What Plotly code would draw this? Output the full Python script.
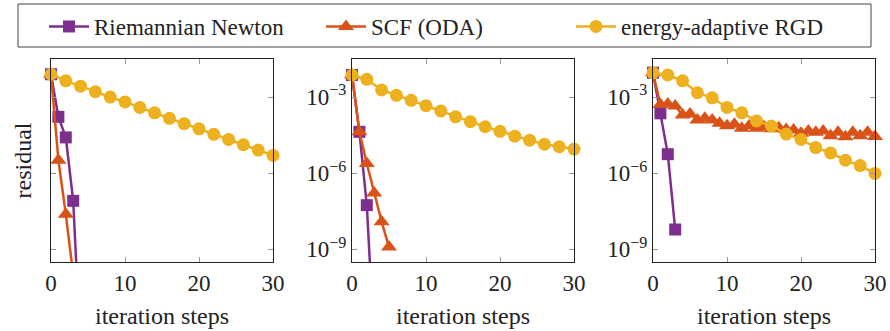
import numpy as np
import plotly.graph_objects as go

# ---------------- data (residual vs iteration step) ----------------
steps_even = list(range(0, 31, 2))
steps_all = list(range(0, 31))

# panel 1
rn1_x = [0, 1, 2, 3, 4]
rn1_y = [7.94e-3, 1.66e-4, 2.57e-5, 8.13e-8, 7.9e-14]
scf1_x = [0, 1, 2, 3]
scf1_y = [7.94e-3, 3.24e-6, 2.40e-8, 1.0e-10]
rgd1_x = steps_even
rgd1_y = [7.94e-3, 4.37e-3, 2.69e-3, 1.62e-3, 1.00e-3, 6.46e-4, 3.89e-4, 2.40e-4,
          1.45e-4, 8.91e-5, 5.62e-5, 3.39e-5, 2.14e-5, 1.32e-5, 8.13e-6, 5.01e-6]

# panel 2
rn2_x = [0, 1, 2, 3]
rn2_y = [7.41e-3, 4.27e-5, 5.50e-8, 2.0e-13]
scf2_x = [0, 1, 2, 3, 4, 5]
scf2_y = [7.41e-3, 4.27e-5, 2.40e-6, 1.66e-7, 1.23e-8, 1.23e-9]
rgd2_x = steps_even
rgd2_y = [7.41e-3, 5.01e-3, 1.91e-3, 1.17e-3, 7.41e-4, 4.57e-4, 2.82e-4, 1.66e-4,
          1.07e-4, 6.76e-5, 4.47e-5, 2.88e-5, 2.00e-5, 1.38e-5, 1.10e-5, 8.91e-6]

# panel 3
rn3_x = [0, 1, 2, 3]
rn3_y = [9.12e-3, 2.29e-4, 5.62e-6, 6.03e-9]
scf3_x = steps_all
scf3_y = [9.12e-3, 5.13e-4, 5.37e-4, 4.47e-4, 1.95e-4, 2.14e-4, 1.26e-4, 1.45e-4,
          1.26e-4, 9.33e-5, 7.41e-5, 8.51e-5, 5.89e-5, 7.41e-5, 5.89e-5, 6.76e-5,
          5.62e-5, 6.17e-5, 5.25e-5, 5.01e-5, 3.72e-5, 4.57e-5, 4.07e-5, 4.57e-5,
          3.02e-5, 4.07e-5, 2.75e-5, 4.07e-5, 3.02e-5, 4.07e-5, 2.82e-5]
rgd3_x = steps_even
rgd3_y = [9.12e-3, 7.41e-3, 4.37e-3, 1.48e-3, 9.33e-4, 3.89e-4, 2.40e-4, 1.15e-4,
          7.24e-5, 3.47e-5, 2.14e-5, 1.02e-5, 6.31e-6, 3.24e-6, 2.00e-6, 9.77e-7]

series_names = ["Riemannian Newton", "SCF (ODA)", "energy-adaptive RGD"]
x_ticks = [0, 10, 20, 30]
y_ticks = [1e-9, 1e-6, 1e-3]
y_ticktext = ["10<sup>−9</sup>", "10<sup>−6</sup>", "10<sup>−3</sup>"]
x_title = "iteration steps"
y_title = "residual"

# ---------------- style ----------------
colors = ["#7E2F8E", "#D95319", "#EDB120"]
symbols = ["square", "triangle-up", "circle"]
msizes = [12, 14, 13]
FONT = "Liberation Serif"
Y_RANGE = [-9.5, -1.5]

panels = [
    [(rn1_x, rn1_y), (scf1_x, scf1_y), (rgd1_x, rgd1_y)],
    [(rn2_x, rn2_y), (scf2_x, scf2_y), (rgd2_x, rgd2_y)],
    [(rn3_x, rn3_y), (scf3_x, scf3_y), (rgd3_x, rgd3_y)],
]

W, H = 890, 331
x_doms = [(51, 273), (352, 574), (653, 875)]
y_dom = [1 - 262 / H, 1 - 59 / H]
legend_left_px = [44, 321, 571]

fig = go.Figure()

for p, series in enumerate(panels):
    xa = "x" if p == 0 else f"x{p+1}"
    ya = "y" if p == 0 else f"y{p+1}"
    for s, (xs, ys) in enumerate(series):
        xs = np.array(xs, dtype=float)
        ys = np.array(ys, dtype=float)
        fig.add_trace(go.Scatter(
            x=xs, y=ys, mode="lines", xaxis=xa, yaxis=ya,
            line=dict(color=colors[s], width=2.5), showlegend=False,
            hoverinfo="skip"))
        lg = np.log10(ys)
        keep = (lg >= Y_RANGE[0] - 0.05) & (lg <= Y_RANGE[1] + 0.05)
        fig.add_trace(go.Scatter(
            x=xs[keep], y=ys[keep], mode="markers", xaxis=xa, yaxis=ya,
            marker=dict(symbol=symbols[s], size=msizes[s], color=colors[s],
                        line=dict(width=0)),
            cliponaxis=False, showlegend=False))

legend_keys = ["legend", "legend2", "legend3"]
for s in range(3):
    fig.add_trace(go.Scatter(
        x=[None], y=[None], mode="lines+markers", name=series_names[s],
        legend=legend_keys[s],
        line=dict(color=colors[s], width=2.5),
        marker=dict(symbol=symbols[s], size=msizes[s], color=colors[s])))

layout = dict(
    width=W, height=H,
    margin=dict(l=0, r=0, t=0, b=0),
    paper_bgcolor="white", plot_bgcolor="white",
    font=dict(family=FONT, size=23, color="#222"),
    showlegend=True,
    shapes=[dict(type="rect", xref="paper", yref="paper",
                 x0=18 / W, x1=871 / W, y0=1 - 47 / H, y1=1 - 4 / H,
                 line=dict(color="#444", width=1), fillcolor="rgba(0,0,0,0)")],
)
for s in range(3):
    layout[legend_keys[s]] = dict(
        orientation="h", x=legend_left_px[s] / W, xanchor="left",
        y=1 - 5 / H, yanchor="top", borderwidth=0,
        font=dict(size=23, family=FONT, color="#222"),
        itemwidth=40, bgcolor="rgba(0,0,0,0)")

for p in range(3):
    xk = "xaxis" if p == 0 else f"xaxis{p+1}"
    yk = "yaxis" if p == 0 else f"yaxis{p+1}"
    xa_id = "x" if p == 0 else f"x{p+1}"
    ya_id = "y" if p == 0 else f"y{p+1}"
    layout[xk] = dict(
        domain=[x_doms[p][0] / W, x_doms[p][1] / W], anchor=ya_id,
        range=[0, 30], tickvals=x_ticks, ticks="inside", ticklen=5,
        tickcolor="#999", tickwidth=1, mirror="allticks", showline=True,
        linecolor="#222", linewidth=1.2, showgrid=False, zeroline=False,
        automargin=False, tickfont=dict(size=23, family=FONT),
        title=dict(text=x_title, font=dict(size=24, family=FONT), standoff=12))
    layout[yk] = dict(
        domain=y_dom, anchor=xa_id, type="log", range=Y_RANGE,
        tickvals=y_ticks, ticktext=y_ticktext, ticks="inside", ticklen=5,
        tickcolor="#999", tickwidth=1, mirror="allticks", showline=True,
        linecolor="#222", linewidth=1.2, showgrid=False, zeroline=False,
        automargin=False, showticklabels=(p != 0),
        tickfont=dict(size=23, family=FONT))
    if p == 0:
        layout[yk]["title"] = dict(text=y_title, font=dict(size=24, family=FONT),
                                   standoff=11)

fig.update_layout(**layout)
fig.write_html("out.html", config={"displayModeBar": False},
               post_script="document.body.style.margin='0px';")
